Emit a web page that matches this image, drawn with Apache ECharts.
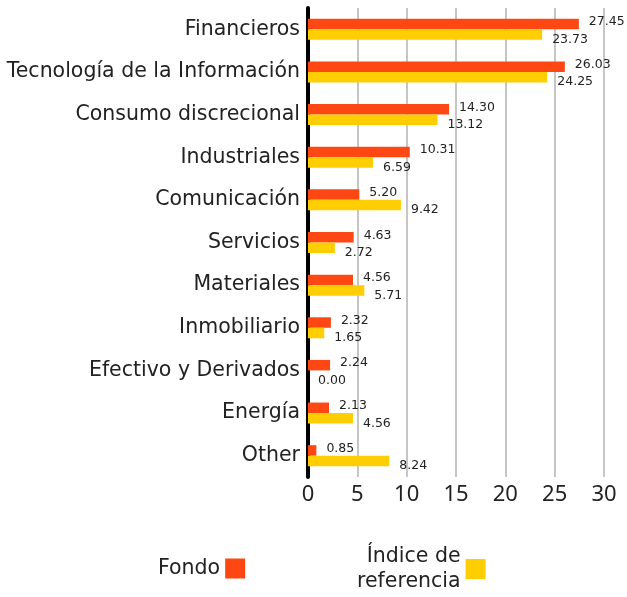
<!DOCTYPE html>
<html>
<head>
<meta charset="utf-8">
<script src="https://cdn.jsdelivr.net/npm/echarts@6/dist/echarts.min.js"></script>
<style>
  html, body { margin: 0; padding: 0; background: #fff; }
  #chart { width: 627px; height: 597px; }
</style>
</head>
<body>
<div id="chart"></div>
<script>
var categories = ['Financieros', 'Tecnología de la Información', 'Consumo discrecional', 'Industriales',
  'Comunicación', 'Servicios', 'Materiales', 'Inmobiliario', 'Efectivo y Derivados', 'Energía', 'Other'];
var fondo = [27.45, 26.03, 14.30, 10.31, 5.20, 4.63, 4.56, 2.32, 2.24, 2.13, 0.85];
var indice = [23.73, 24.25, 13.12, 6.59, 9.42, 2.72, 5.71, 1.65, 0.00, 4.56, 8.24];

var FONT = 'DejaVu Sans';
var chart = echarts.init(document.getElementById('chart'));

function fmt(p) { return p.value.toFixed(2); }

chart.setOption({
  animation: false,
  textStyle: { fontFamily: FONT },
  grid: { left: 308, right: 23, top: 8, bottom: 120, containLabel: false },
  xAxis: {
    type: 'value',
    min: 0, max: 30, interval: 5,
    axisLine: { show: false },
    axisTick: { show: false },
    axisLabel: { fontSize: 22, color: '#222', margin: 7, fontFamily: 'Noto Sans' },
    splitLine: { show: true, lineStyle: { color: '#c6c6c6', width: 2 } }
  },
  yAxis: {
    type: 'category',
    data: categories,
    inverse: true,
    axisLine: { show: true, lineStyle: { color: '#000', width: 4 } },
    axisTick: { show: false },
    axisLabel: { fontSize: 20.5, color: '#222', margin: 8, padding: [3, 0, 0, 0], fontFamily: FONT }
  },
  legend: [{
    data: ['Fondo'],
    left: 158, top: 556,
    padding: 0,
    align: 'right',
    icon: 'rect', itemWidth: 20, itemHeight: 20,
    textStyle: { fontSize: 20.5, color: '#222', lineHeight: 25, fontFamily: FONT }
  }, {
    data: ['Índice de referencia'],
    left: 357, top: 544,
    padding: 0,
    align: 'right',
    icon: 'rect', itemWidth: 20, itemHeight: 20,
    formatter: function () { return 'Índice de\nreferencia'; },
    textStyle: { fontSize: 20.5, color: '#222', lineHeight: 25, fontFamily: FONT }
  }],
  series: [{
    name: 'Fondo',
    type: 'bar',
    data: fondo,
    barWidth: 10.5,
    barGap: '0%',
    itemStyle: { color: '#ff4713' },
    label: { show: true, position: 'right', distance: 10, offset: [0, -2], formatter: fmt,
      fontSize: 12.5, color: '#222', fontFamily: FONT }
  }, {
    name: 'Índice de referencia',
    type: 'bar',
    data: indice,
    barWidth: 10.5,
    barGap: '0%',
    itemStyle: { color: '#ffce00' },
    label: { show: true, position: 'right', distance: 10, offset: [0, 5], formatter: fmt,
      fontSize: 12.5, color: '#222', fontFamily: FONT }
  }]
});
</script>
</body>
</html>
